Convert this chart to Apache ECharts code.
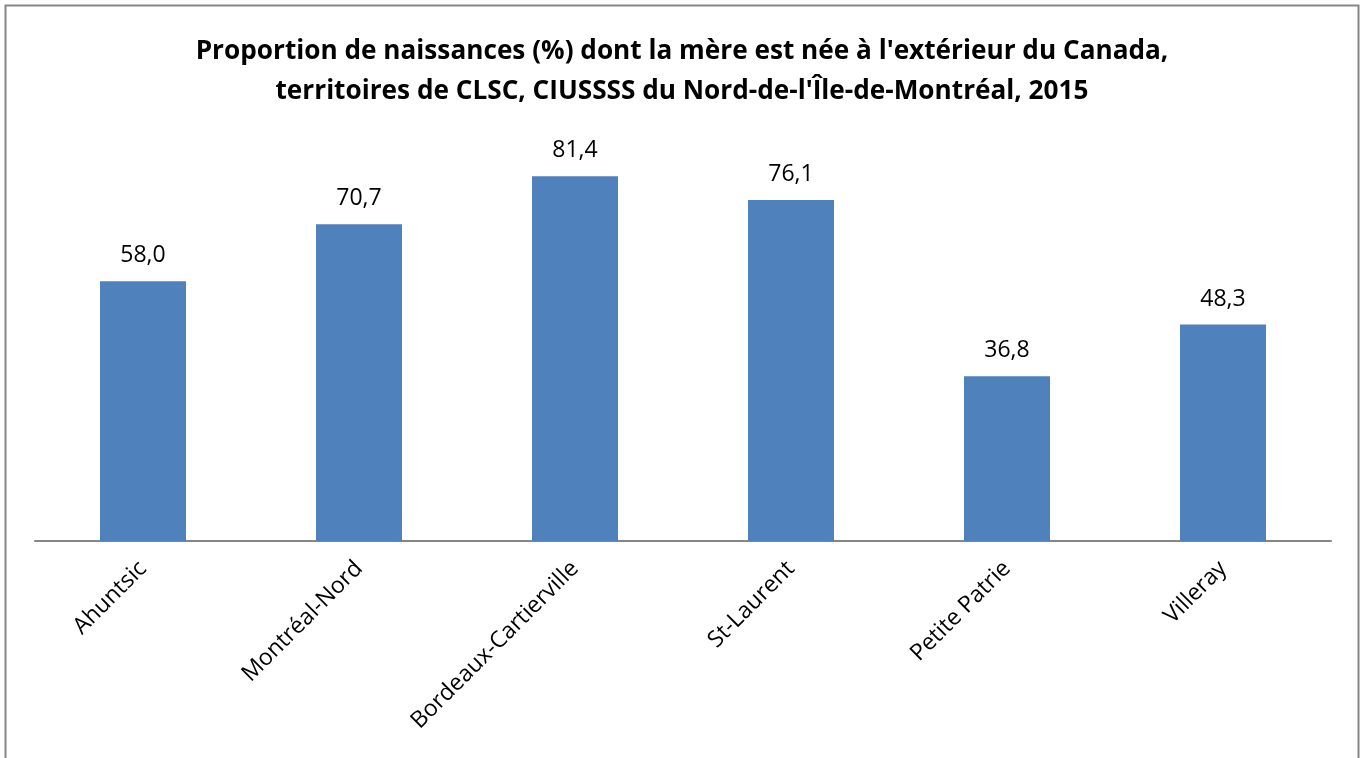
<!DOCTYPE html>
<html><head><meta charset="utf-8">
<script src="https://cdn.jsdelivr.net/npm/echarts@6/dist/echarts.min.js"></script>
<style>html,body{margin:0;padding:0;background:#fff}#c{width:1364px;height:758px}</style>
</head><body><div id="c"></div>
<script>
const titleLines = ["Proportion de naissances (%) dont la mère est née à l'extérieur du Canada,", "territoires de CLSC, CIUSSSS du Nord-de-l'Île-de-Montréal, 2015"];
const categories = ["Ahuntsic", "Montréal-Nord", "Bordeaux-Cartierville", "St-Laurent", "Petite Patrie", "Villeray"];
const values = [58.0, 70.7, 81.4, 76.1, 36.8, 48.3];

const chart = echarts.init(document.getElementById('c'), null, {renderer: 'canvas'});
const font = '"Open Sans", "Noto Sans", sans-serif';
chart.setOption({
  backgroundColor: '#fff',
  animation: false,
  title: {
    text: titleLines.join('\n'),
    left: 'center', top: 27,
    textStyle: {fontFamily: font, fontWeight: 'bold', fontSize: 26.2, lineHeight: 40, color: '#000'}
  },
  graphic: [{
    type: 'rect', shape: {x: 5.5, y: 5.5, width: 1353, height: 800},
    style: {fill: 'none', stroke: '#868686', lineWidth: 2}, silent: true
  }],
  grid: {left: 35, right: 33, top: 93, bottom: 217, containLabel: false},
  xAxis: {
    type: 'category', data: categories,
    axisLine: {lineStyle: {color: '#868686', width: 2}},
    axisTick: {show: false},
    axisLabel: {rotate: 45, interval: 0, fontFamily: font, fontSize: 23, color: '#000', margin: 24}
  },
  yAxis: {type: 'value', min: 0, max: 100, show: false, splitLine: {show: false}},
  series: [{
    type: 'bar', data: values, barWidth: 86,
    itemStyle: {color: '#4F81BD'},
    label: {show: true, position: 'top', distance: 14, fontFamily: font, fontSize: 23, color: '#000',
      formatter: p => p.value.toFixed(1).replace('.', ',')}
  }]
});
</script></body></html>
